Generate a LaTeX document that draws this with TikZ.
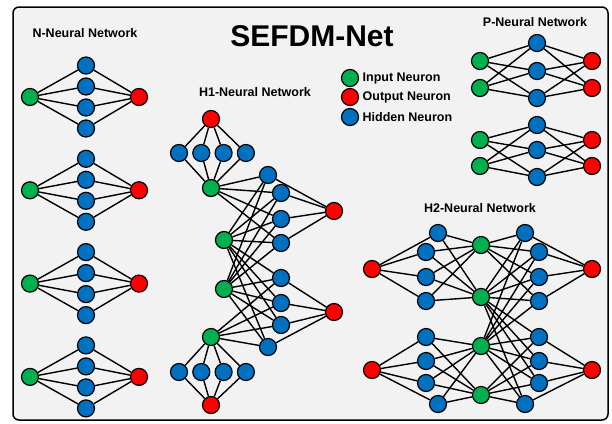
\documentclass[tikz,border=0pt]{standalone}
\usepackage{fontspec}
\setmainfont{Liberation Sans}
\usepackage{xcolor}
\usetikzlibrary{positioning}
\definecolor{ingreen}{RGB}{0,176,80}
\definecolor{outred}{RGB}{255,0,0}
\definecolor{hidblue}{RGB}{0,112,192}
\tikzstyle{neuron} = [circle, draw=black, line width=1.2pt,
minimum size=17pt,
inner sep=0pt]
\tikzstyle{inp} = [neuron, fill=ingreen]
\tikzstyle{outp} = [neuron, fill=outred]
\tikzstyle{hid} = [neuron, fill=hidblue]
\tikzstyle{link} = [line width=1.4pt]
\tikzstyle{nettitle} = [font=\bfseries\fontsize{12.5}{14}\selectfont]
\tikzstyle{legtext} = [anchor=west, font=\bfseries\fontsize{12.5}{14}\selectfont]

\begin{document}
\begin{tikzpicture}[x=1pt, y=-1pt]
        \useasboundingbox (0,0) rectangle (612,423);
        \draw [line width=1.5pt, rounded corners=6pt, fill=black!5] (13,7) rectangle (608,420);
        % titles
        \node (title) [font=\bfseries\fontsize{30}{34}\selectfont] at (312,36) {SEFDM-Net};
        \node (ntitle) [nettitle] at (85,33) {N-Neural Network};
        \node (h1title) [nettitle] at (255,92) {H1-Neural Network};
        \node (ptitle) [nettitle] at (535,22) {P-Neural Network};
        \node (h2title) [nettitle] at (480,208) {H2-Neural Network};
        % legend
        \node (leg1) [inp] at (350,78) {};
        \node (leg2) [outp] at (350,97) {};
        \node (leg3) [hid] at (350,117) {};
        \node [legtext, right=0pt of leg1] {Input Neuron};
        \node [legtext, right=0pt of leg2] {Output Neuron};
        \node [legtext, right=0pt of leg3] {Hidden Neuron};
        % N networks
        \foreach \k in {1,...,4} {
            \pgfmathsetmacro{\cy}{97+93.3*(\k-1)}
            \node (n\k-i) [inp] at (30,\cy) {};
            \node (n\k-o) [outp] at (139,\cy) {};
            \foreach \j/\dy in {1/-31.5,2/-10.5,3/10.5,4/31.5} {
                \node (n\k-h\j) [hid] at (86,\cy+\dy) {};
                \draw [link] (n\k-i) -- (n\k-h\j) -- (n\k-o);
            }
        }
        % P networks
        \foreach \k/\ga/\gb/\ha/\hb/\hc in {1/61/88/43/71/98, 2/140/166/125/150/177} {
            \node (p\k-i1) [inp] at (480,\ga) {};
            \node (p\k-i2) [inp] at (480,\gb) {};
            \node (p\k-o1) [outp] at (592,\ga) {};
            \node (p\k-o2) [outp] at (592,\gb) {};
            \node (p\k-h1) [hid] at (537,\ha) {};
            \node (p\k-h2) [hid] at (537,\hb) {};
            \node (p\k-h3) [hid] at (537,\hc) {};
            \foreach \j in {1,2,3} {
                \draw [link] (p\k-i1) -- (p\k-h\j) -- (p\k-o1);
                \draw [link] (p\k-i2) -- (p\k-h\j) -- (p\k-o2);
            }
        }
        % H1 network
        \node (h1ot) [outp] at (211,119) {};
        \node (h1ob) [outp] at (211,405) {};
        \foreach \j in {1,...,4} {
            \node (h1t\j) [hid] at (179+22.3*\j-22.3,153) {};
            \node (h1b\j) [hid] at (179+22.3*\j-22.3,372) {};
        }
        \foreach \j/\x/\y in {1/211/188,2/224/240,3/224/289,4/211/337}
            \node (h1i\j) [inp] at (\x,\y) {};
        \foreach \j/\x/\y in {1/268/175,2/281/193,3/281/219,4/281/243,5/281/278,6/281/303,7/281/325,8/268/347}
            \node (h1h\j) [hid] at (\x,\y) {};
        \node (h1o1) [outp] at (334,211) {};
        \node (h1o2) [outp] at (334,312) {};
        \foreach \j in {1,...,4} {
            \draw [link] (h1ot) -- (h1t\j) -- (h1i1);
            \draw [link] (h1ob) -- (h1b\j) -- (h1i4);
        }
        \foreach \j in {1,...,4}
            \draw [link] (h1i1) -- (h1h\j) -- (h1o1);
        \foreach \j in {5,...,8}
            \draw [link] (h1i4) -- (h1h\j) -- (h1o2);
        \foreach \i in {2,3}
            \foreach \j in {1,...,8}
                \draw [link] (h1i\i) -- (h1h\j);
        % H2 network
        \node (h2l1) [outp] at (372,269) {};
        \node (h2l2) [outp] at (372,370) {};
        \node (h2r1) [outp] at (592,269) {};
        \node (h2r2) [outp] at (592,370) {};
        \foreach \j/\y in {1/245,2/297,3/346,4/395}
            \node (h2i\j) [inp] at (481,\y) {};
        \foreach \j/\xl/\xr/\y in {1/438/525/233,2/426/539/252,3/426/539/277,4/426/539/301,5/426/539/337,6/426/539/361,7/426/539/383,8/438/525/404} {
            \node (h2a\j) [hid] at (\xl,\y) {};
            \node (h2b\j) [hid] at (\xr,\y) {};
        }
        \foreach \j in {1,...,4} {
            \draw [link] (h2l1) -- (h2a\j);
            \draw [link] (h2i1) -- (h2a\j) -- (h2i2);
            \draw [link] (h2i1) -- (h2b\j) -- (h2r1);
        }
        \foreach \j in {5,...,8} {
            \draw [link] (h2l2) -- (h2a\j);
            \draw [link] (h2i3) -- (h2a\j) -- (h2i4);
            \draw [link] (h2i4) -- (h2b\j) -- (h2r2);
        }
        \foreach \i in {2,3}
            \foreach \j in {1,...,8}
                \draw [link] (h2i\i) -- (h2b\j);
    \end{tikzpicture}
\end{document}
